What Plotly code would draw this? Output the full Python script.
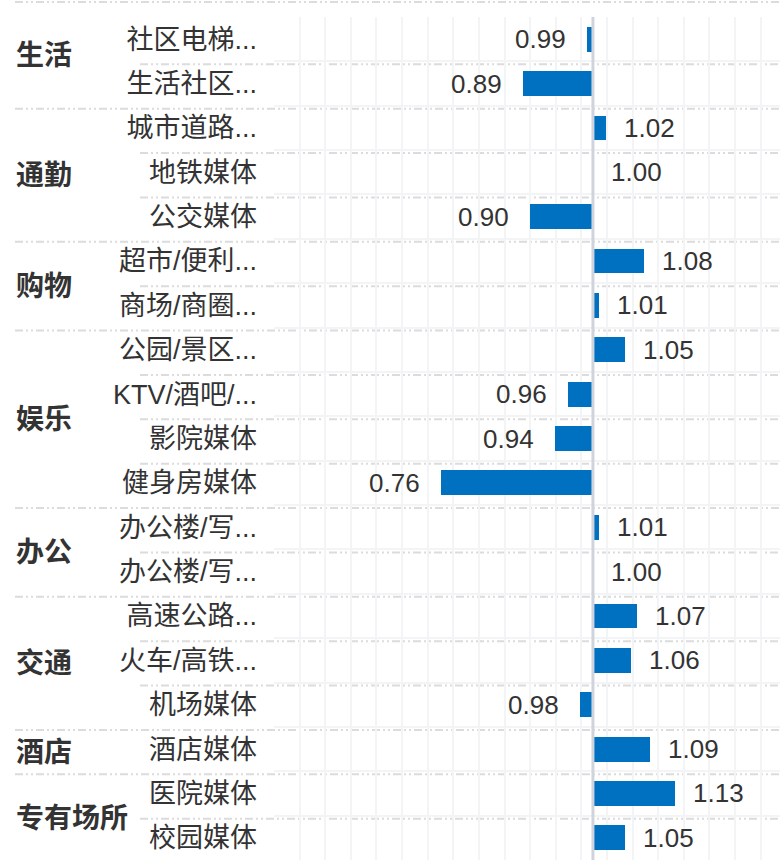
import plotly.graph_objects as go

# data
GROUPS = ["生活", "通勤", "购物", "娱乐", "办公", "交通", "酒店", "专有场所"]
GROUP_SIZES = [2, 3, 2, 4, 2, 3, 1, 2]
MEDIA = ["社区电梯...", "生活社区...", "城市道路...", "地铁媒体", "公交媒体",
         "超市/便利...", "商场/商圈...", "公园/景区...", "KTV/酒吧/...", "影院媒体",
         "健身房媒体", "办公楼/写...", "办公楼/写...", "高速公路...", "火车/高铁...",
         "机场媒体", "酒店媒体", "医院媒体", "校园媒体"]
INDEX = [0.99, 0.89, 1.02, 1.00, 0.90, 1.08, 1.01, 1.05, 0.96, 0.94,
         0.76, 1.01, 1.00, 1.07, 1.06, 0.98, 1.09, 1.13, 1.05]

W, H = 780, 860
ML, MT = 274, 17
PW, PH = W - ML, H - MT
N = len(MEDIA)
rows = list(range(N))

BLUE = "#0070c0"
TXT = "#333333"
FONT = "Liberation Sans, Arial, Noto Sans CJK SC, sans-serif"

fig = go.Figure()
fig.add_trace(go.Bar(
    y=rows, x=[v - 1 for v in INDEX], base=1, orientation="h",
    marker=dict(color=BLUE, line=dict(width=0)), width=0.56,
    hoverinfo="skip", showlegend=False))

# value labels beside the bars
for r, v in zip(rows, INDEX):
    left = v < 1
    fig.add_annotation(x=v, y=r, text=f"{v:.2f}", showarrow=False,
                       xanchor="right" if left else "left",
                       xshift=-19 if left else 16,
                       font=dict(size=26, color=TXT, family=FONT))

# baseline at 1.0
fig.add_shape(type="line", xref="x", yref="paper", x0=1, x1=1, y0=0, y1=1,
              line=dict(color="#cfd4dc", width=3), layer="above")


def sep_y(k):
    if k == 0:
        return 1 + 15 / PH
    return 1 - k / N - 3 / PH


DASH = "8px,3px,2px,3px,2px,3px"
x_full = -(ML - 15) / PW
x_inner = -(ML - 140) / PW

start = 0
for g, n in zip(GROUPS, GROUP_SIZES):
    end = start + n
    fig.add_shape(type="line", xref="paper", yref="paper", x0=x_full, x1=1,
                  y0=sep_y(start), y1=sep_y(start),
                  line=dict(color="#dcdcdc", width=2, dash=DASH), layer="below")
    for k in range(start + 1, end):
        fig.add_shape(type="line", xref="paper", yref="paper", x0=x_inner, x1=1,
                      y0=sep_y(k), y1=sep_y(k),
                      line=dict(color="#dcdcdc", width=2, dash=DASH), layer="below")
    fig.add_annotation(xref="paper", yref="paper", x=0, xshift=-(ML - 14),
                       xanchor="left", yanchor="middle",
                       y=(sep_y(start) + sep_y(end)) / 2,
                       text=f"<b>{g}</b>", showarrow=False,
                       font=dict(size=28, color=TXT, family=FONT))
    start = end

fig.update_layout(
    width=W, height=H, autosize=False,
    margin=dict(l=ML, r=0, t=MT, b=0, pad=0),
    plot_bgcolor="white", paper_bgcolor="white",
    font=dict(family=FONT, color=TXT),
    bargap=0,
    xaxis=dict(range=[0.497, 1.295], showticklabels=False, zeroline=False,
               showgrid=True, gridcolor="#f2f4f6", gridwidth=2,
               tickmode="linear", tick0=0.497, dtick=0.0404, ticks="",
               showline=False, fixedrange=True, automargin=False),
    yaxis=dict(range=[N - 0.5, -0.5], tickmode="array", tickvals=rows,
               ticktext=MEDIA, ticks="", ticklabelstandoff=16,
               tickfont=dict(size=27, color=TXT, family=FONT),
               showgrid=False, zeroline=False, showline=False,
               minor=dict(tickmode="array",
                          tickvals=[r + 0.5 for r in range(-1, N)],
                          showgrid=True, gridcolor="#f2f4f6", gridwidth=2,
                          ticks=""),
               fixedrange=True, automargin=False),
)

fig.write_html("out.html", config={"displayModeBar": False},
               post_script="document.body.style.margin='0';")
